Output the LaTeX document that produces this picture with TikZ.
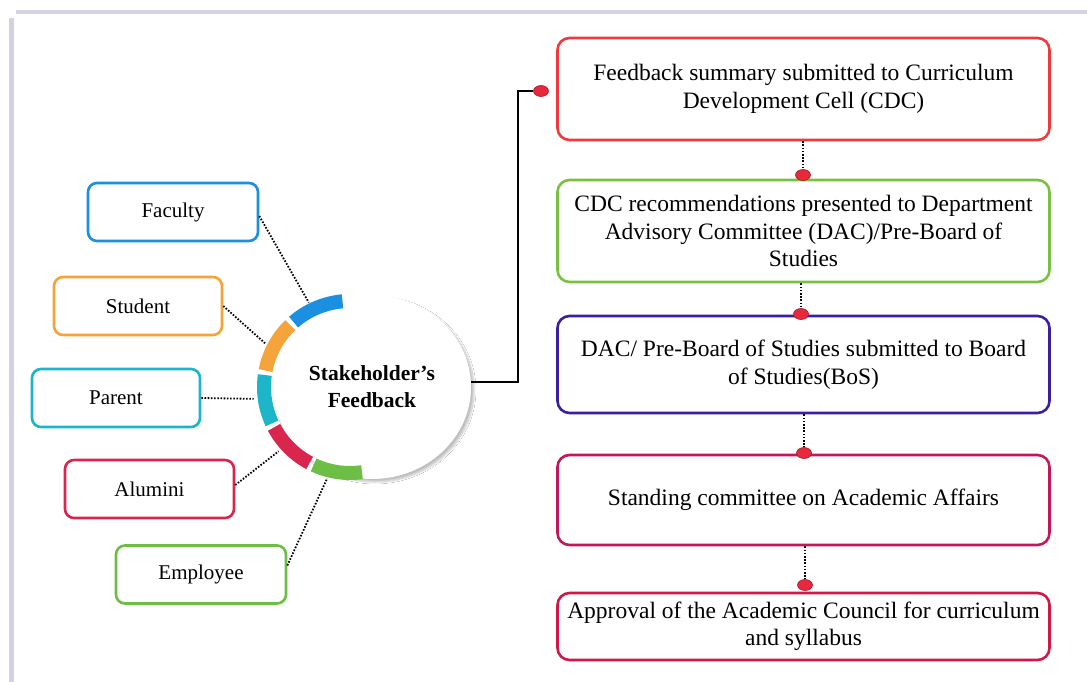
\documentclass[tikz,border=0pt]{standalone}
\usepackage{fontspec}
\setmainfont{Liberation Serif}
\usetikzlibrary{shapes.geometric,shadows.blur}

\definecolor{facblue}{HTML}{1B8FE0}
\definecolor{stuorange}{HTML}{F4A43A}
\definecolor{parteal}{HTML}{1CB5C9}
\definecolor{alured}{HTML}{D9264F}
\definecolor{empgreen}{HTML}{6DBE45}
\definecolor{stepred}{HTML}{EC3A3F}
\definecolor{stepgreen}{HTML}{78C042}
\definecolor{stepindigo}{HTML}{3A1F9E}
\definecolor{stepmagenta}{HTML}{C2185B}
\definecolor{stepcrimson}{HTML}{D01848}
\definecolor{dotred}{HTML}{E8283C}
\definecolor{scanedge}{HTML}{D2D2E0}

\tikzset{
  who/.style={draw=#1, line width=2.6pt, rounded corners=9pt, fill=white,
    minimum height=58pt, font=\fontsize{21}{24}\selectfont},
  stepbox/.style={draw=#1, line width=2.6pt, rounded corners=12pt, fill=white,
    minimum width=492pt, align=center, font=\fontsize{23.5}{27.5}\selectfont},
  reddot/.style={ellipse, fill=dotred, draw=dotred!70!black, line width=0.6pt,
    minimum width=15pt, minimum height=11pt, inner sep=0pt},
  dots/.style={line width=1.8pt, dash pattern=on 1.6pt off 1.6pt},
  segment/.style={line width=14pt, draw=#1},
}

\begin{document}
\begin{tikzpicture}[x=1pt, y=-1pt]
\useasboundingbox (0,0) rectangle (1087,682);
\fill[white] (0,0) rectangle (1087,682);

% scanned page edges
\draw[scanedge, line width=4pt] (16,12) -- (1087,12);
\draw[scanedge, line width=5pt] (11,18) -- (11,682);

% stakeholder boxes
\node[who=facblue, minimum width=170pt] (fac) at (173,212) {Faculty};
\node[who=stuorange, minimum width=168pt] (stu) at (138,306) {Student};
\node[who=parteal, minimum width=168pt] (par) at (116,398) {Parent};
\node[who=alured, minimum width=169pt] (alu) at (149.5,489) {Alumini};
\node[who=empgreen, minimum width=170pt] (emp) at (201,574.5) {Employee};

% central hub
\node[ellipse, fill=white, minimum width=198pt, minimum height=184pt,
  blur shadow={shadow xshift=3pt, shadow yshift=-3pt, shadow blur steps=14, shadow opacity=25},
  align=center, font=\bfseries\fontsize{21.5}{27}\selectfont] (hub) at (372,387)
  {Stakeholder's\\Feedback};

% coloured ring around the hub
\coordinate (rc) at (350,387);
\draw[segment=facblue]   ([shift={(-95:86)}]rc)  arc[start angle=-95,  end angle=-131, radius=86];
\draw[segment=stuorange] ([shift={(-134:86)}]rc) arc[start angle=-134, end angle=-169, radius=86];
\draw[segment=parteal]   ([shift={(-172:86)}]rc) arc[start angle=-172, end angle=-205, radius=86];
\draw[segment=alured]    ([shift={(-208:86)}]rc) arc[start angle=-208, end angle=-242, radius=86];
\draw[segment=empgreen]  ([shift={(-245:86)}]rc) arc[start angle=-245, end angle=-278, radius=86];

\coordinate (rfac) at ([shift={(-116:94)}]rc);
\coordinate (rstu) at ([shift={(-153:94)}]rc);
\coordinate (rpar) at ([shift={(-187:97)}]rc);
\coordinate (ralu) at ([shift={(-222:96)}]rc);
\coordinate (remp) at ([shift={(-256:94)}]rc);

\draw[dots] ([yshift=-4pt]fac.east) -- (rfac);
\draw[dots] (stu.east) -- (rstu);
\draw[dots] (par.east) -- (rpar);
\draw[dots] ([yshift=4pt]alu.east) -- (ralu);
\draw[dots] ([yshift=9pt]emp.east) -- (remp);

% approval steps
\node[stepbox=stepred, minimum height=102pt] (s1) at (803.5,89)
  {Feedback summary submitted to Curriculum\\Development Cell (CDC)};
\node[stepbox=stepgreen, minimum height=102pt] (s2) at (803.5,231)
  {CDC recommendations presented to Department\\Advisory Committee (DAC)/Pre-Board of\\Studies};
\node[stepbox=stepindigo, minimum height=97pt] (s3) at (803.5,364.5)
  {DAC/ Pre-Board of Studies submitted to Board\\of Studies(BoS)};
\node[stepbox=stepmagenta, minimum height=90pt] (s4) at (803.5,500)
  {Standing committee on Academic Affairs};
\node[stepbox=stepcrimson, minimum height=67pt] (s5) at (803.5,626.5)
  {Approval of the Academic Council for curriculum\\and syllabus};

% hub to first step
\node[reddot] (d1) at (541,91) {};
\draw[line width=2pt] ([yshift=5pt]hub.east) -- (518,382) |- (d1);

% links between steps
\node[reddot] (d2) at (803,175) {};
\node[reddot] (d3) at (801,314) {};
\node[reddot] (d4) at (804,453) {};
\node[reddot] (d5) at (805,585) {};
\draw[dots] (s1.south -| d2) -- (d2);
\draw[dots] (s2.south -| d3) -- (d3);
\draw[dots] (s3.south -| d4) -- (d4);
\draw[dots] (s4.south -| d5) -- (d5);
\end{tikzpicture}
\end{document}
